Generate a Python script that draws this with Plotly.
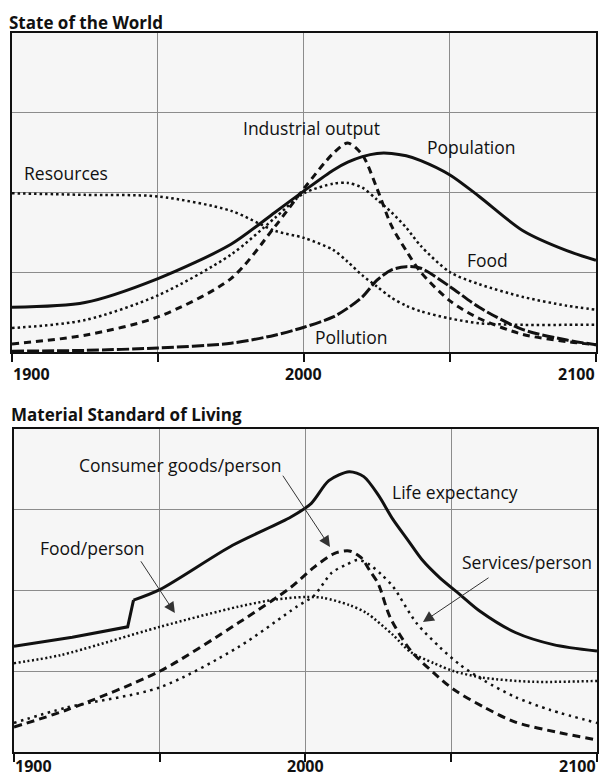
import plotly.graph_objects as go

# ---- State of the World (top panel) ----
world_years = [1900, 1925, 1950, 1975, 1990, 2000, 2010, 2015, 2020, 2025,
               2030, 2035, 2040, 2050, 2060, 2075, 2090, 2100]
population = [0.56, 0.62, 0.92, 1.35, 1.75, 2.02, 2.28, 2.38, 2.45, 2.49,
              2.49, 2.46, 2.40, 2.22, 1.95, 1.52, 1.27, 1.15]
industrial_output = [0.10, 0.21, 0.44, 0.92, 1.57, 2.05, 2.49, 2.62, 2.47, 2.05,
                     1.58, 1.27, 1.00, 0.64, 0.42, 0.22, 0.13, 0.09]
food = [0.30, 0.40, 0.71, 1.22, 1.68, 1.99, 2.11, 2.12, 2.06, 1.91,
        1.75, 1.56, 1.33, 1.00, 0.85, 0.69, 0.58, 0.53]
resources = [1.99, 1.97, 1.95, 1.77, 1.52, 1.43, 1.28, 1.13, 0.96, 0.82,
             0.68, 0.58, 0.51, 0.42, 0.36, 0.34, 0.34, 0.34]
pollution = [0.01, 0.02, 0.05, 0.11, 0.21, 0.31, 0.44, 0.55, 0.69, 0.90,
             1.03, 1.07, 1.05, 0.82, 0.56, 0.28, 0.15, 0.09]

# ---- Material Standard of Living (bottom panel) ----
life_years = [1900, 1920, 1939, 1941, 1950, 1975, 1995, 2002, 2008, 2015, 2020,
              2025, 2030, 2035, 2040, 2046, 2053, 2060, 2072, 2085, 2100]
life_expectancy = [1.31, 1.42, 1.55, 1.88, 2.01, 2.56, 2.91, 3.08, 3.36, 3.47, 3.41,
                   3.18, 2.88, 2.63, 2.38, 2.16, 1.95, 1.74, 1.48, 1.33, 1.25]
food_pp_years = [1900, 1916, 1950, 1977, 1990, 2000, 2006, 2015, 2021, 2030,
                 2036, 2044, 2051, 2061, 2078, 2100]
food_per_person = [1.10, 1.20, 1.55, 1.80, 1.89, 1.92, 1.91, 1.82, 1.72, 1.45,
                   1.24, 1.10, 1.00, 0.92, 0.87, 0.88]
goods_years = [1900, 1918, 1950, 1977, 1995, 2003, 2010, 2015, 2019, 2022, 2025,
               2029, 2036, 2044, 2051, 2061, 2072, 2087, 2100]
goods_per_person = [0.31, 0.52, 1.00, 1.60, 2.04, 2.29, 2.46, 2.49, 2.41, 2.25, 2.08,
                    1.67, 1.26, 0.98, 0.77, 0.56, 0.37, 0.24, 0.15]
services_years = [1900, 1918, 1950, 1977, 1997, 2003, 2009, 2014, 2018, 2022, 2026,
                  2030, 2038, 2046, 2053, 2061, 2072, 2084, 2100]
services_per_person = [0.36, 0.55, 0.80, 1.30, 1.80, 1.94, 2.22, 2.32, 2.38, 2.32, 2.20,
                       2.05, 1.60, 1.30, 1.08, 0.89, 0.68, 0.52, 0.36]

tick_years = [1900, 2000, 2100]
tick_labels = ["1900", "2000", "2100"]

INK = "#111111"
GRID = "#8c8c8c"
FONT = "Open Sans"

DOT = "2.5px,3px"
DOT_FINE = "2px,2.5px"
DOT_WIDE = "2.5px,4.5px"
DASH = "7px,5px"
LONGDASH = "12px,3px"

fig = go.Figure()


def add_line(x, y, dash, width, axes, shape="spline"):
    xa, ya = axes
    fig.add_trace(
        go.Scatter(
            x=x, y=y, mode="lines", xaxis=xa, yaxis=ya,
            line={"color": INK, "width": width, "dash": dash, "shape": shape,
                  "smoothing": 0.8},
            hoverinfo="skip", showlegend=False,
        )
    )


top = ("x", "y")
bottom = ("x2", "y2")
add_line(world_years, resources, DOT, 2.5, top)
add_line(world_years, food, DOT, 2.5, top)
add_line(world_years, pollution, LONGDASH, 3, top)
add_line(world_years, industrial_output, DASH, 3, top)
add_line(world_years, population, "solid", 3, top)

add_line(food_pp_years, food_per_person, DOT_FINE, 2.5, bottom)
add_line(services_years, services_per_person, DOT_WIDE, 2.5, bottom)
add_line(goods_years, goods_per_person, "8px,5px", 3, bottom)
# life expectancy: straight up to the 1940 step, smooth afterwards
add_line(life_years[:4], life_expectancy[:4], "solid", 3, bottom, shape="linear")
add_line(life_years[3:], life_expectancy[3:], "solid", 3, bottom)

xaxis_style = dict(
    range=[1900, 2100], tick0=1900, dtick=50, showgrid=True, gridcolor=GRID,
    gridwidth=1, zeroline=False, showline=True, linecolor=INK, linewidth=2,
    mirror=True, ticks="outside", ticklen=8, tickwidth=2, tickcolor=INK,
    showticklabels=False, fixedrange=True,
)
yaxis_style = dict(
    range=[0, 4], dtick=1, showgrid=True, gridcolor=GRID, gridwidth=1,
    zeroline=False, showline=True, linecolor=INK, linewidth=2, mirror=True,
    ticks="", showticklabels=False, fixedrange=True,
)

annotations = []


def label(text, x, y, xref, yref, size=17.5, **kw):
    annotations.append(dict(
        text=text, x=x, y=y, xref=xref, yref=yref, showarrow=False,
        font={"family": FONT, "size": size, "color": INK}, **kw,
    ))


# panel titles
label("<b>State of the World</b>", 0.012, 0.9717, "paper", "paper", size=17,
      xanchor="left", yanchor="middle")
label("<b>Material Standard of Living</b>", 0.015, 0.4666, "paper", "paper", size=17,
      xanchor="left", yanchor="middle")

# year labels under each panel
anchors = ["left", "center", "right"]
for xref, ypos, yanc in (("x", 0.5193, "middle"), ("x2", 0.0, "bottom")):
    for yr, txt, anc in zip(tick_years, tick_labels, anchors):
        label(f"<b>{txt}</b>", yr, ypos, xref, "paper", size=16,
              xanchor=anc, yanchor=yanc, borderpad=0)

# series labels, top panel
label("Industrial output", 2002.4, 2.81, "x", "y")
label("Population", 2057.5, 2.57, "x", "y")
label("Resources", 1918.5, 2.24, "x", "y")
label("Food", 2062.7, 1.15, "x", "y")
label("Pollution", 2016.4, 0.19, "x", "y")

# series labels, bottom panel
label("Consumer goods/person", 1957.0, 3.55, "x2", "y2")
label("Food/person", 1926.8, 2.53, "x2", "y2")
label("Life expectancy", 2051.3, 3.22, "x2", "y2")
label("Services/person", 2076.0, 2.35, "x2", "y2")

# pointer arrows (tip at x,y; tail at ax,ay)
for tip, tail in (
    ((2008.4, 2.54), (1991.9, 3.44)),
    ((1955.2, 1.72), (1943.2, 2.38)),
    ((2040.3, 1.61), (2063.3, 2.17)),
):
    annotations.append(dict(
        text="", x=tip[0], y=tip[1], ax=tail[0], ay=tail[1],
        xref="x2", yref="y2", axref="x2", ayref="y2",
        showarrow=True, arrowhead=2, arrowsize=2.2, arrowwidth=1,
        arrowcolor="#333333", standoff=0, startstandoff=0,
    ))

fig.update_layout(
    width=600, height=778,
    margin={"l": 0, "r": 0, "t": 0, "b": 0},
    paper_bgcolor="white", plot_bgcolor="#f6f6f6",
    xaxis={**xaxis_style, "domain": [0.02, 0.9933], "anchor": "y"},
    yaxis={**yaxis_style, "domain": [0.5476, 0.9576], "anchor": "x"},
    xaxis2={**xaxis_style, "domain": [0.0233, 0.995], "anchor": "y2"},
    yaxis2={**yaxis_style, "domain": [0.0334, 0.4486], "anchor": "x2"},
    annotations=annotations,
    font={"family": FONT, "color": INK},
    showlegend=False,
)

# the page's default body margin would push the 600x778 figure off-screen
fig.write_html(
    "out.html",
    config={"displayModeBar": False},
    post_script="document.body.style.margin='0';document.body.style.overflow='hidden';",
)
